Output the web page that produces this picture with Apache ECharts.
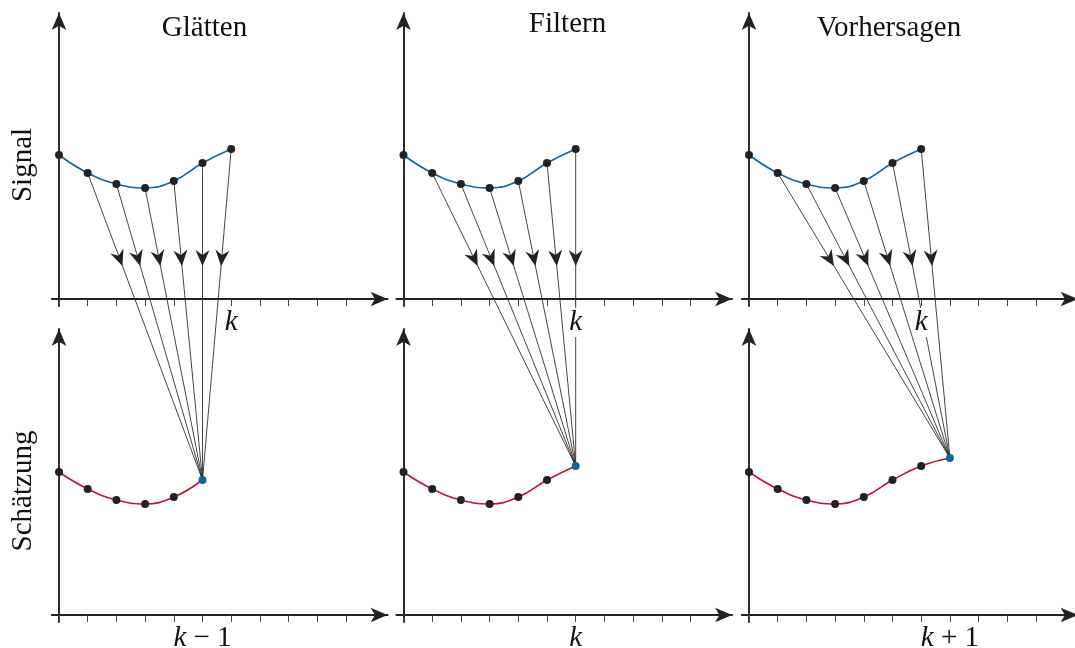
<!DOCTYPE html>
<html><head><meta charset="utf-8">
<script src="https://cdn.jsdelivr.net/npm/echarts@6/dist/echarts.min.js"></script>
<style>html,body{margin:0;padding:0;background:#fff}#c{width:1075px;height:648px}</style>
</head><body><div id="c"></div>
<script>
// ---- data ----
const tickValues = [0, 1, 2, 3, 4, 5, 6, 7, 8, 9, 10];
const signal = [1.44, 1.26, 1.15, 1.11, 1.18, 1.36, 1.50];
const estimateGlaetten = [1.43, 1.26, 1.15, 1.11, 1.18, 1.35];
const estimateFiltern = [1.43, 1.26, 1.15, 1.11, 1.18, 1.35, 1.49];
const estimateVorhersagen = [1.43, 1.26, 1.15, 1.11, 1.18, 1.35, 1.49, 1.57];
const arrowSources = [1, 2, 3, 4, 5, 6];
const titles = ['Glätten', 'Filtern', 'Vorhersagen'];
const rowLabels = ['Signal', 'Schätzung'];
const topTickLabel = 'k';
const topLabelTick = 6;
const bottomTickLabels = ['k − 1', 'k', 'k + 1'];

// ---- layout / style ----
const estimates = [estimateGlaetten, estimateFiltern, estimateVorhersagen];
const colAxisX = [59, 403.5, 749];
const rowAxisY = [299, 615];
const UNIT_X = 28.7, UNIT_Y = 100;
const X_MIN = -0.25, X_MAX = 11.45, Y_MIN = -0.07, Y_MAX = 2.86;
const ARROW_LEVEL = 0.33;
const AXIS = '#222', TICK = '#444', DOT = '#222', LINE = '#222', TEXT = '#111';
const BLUE = '#0b679f', RED = '#c41233';
const FONT = '"Liberation Serif", "DejaVu Serif", serif';
const titleX = [204.5, 567.5, 889], titleY = [28, 24, 28];
const rowLabelX = 23, rowLabelY = [165, 491];

const grids = [], xAxes = [], xInner = [], yAxes = [], series = [];
for (let r = 0; r < 2; r++) {
  for (let c = 0; c < 3; c++) {
    const g = r * 3 + c;
    grids.push({
      left: colAxisX[c] + X_MIN * UNIT_X,
      top: rowAxisY[r] - Y_MAX * UNIT_Y,
      width: (X_MAX - X_MIN) * UNIT_X,
      height: (Y_MAX - Y_MIN) * UNIT_Y,
      outerBoundsMode: 'none', containLabel: false
    });
    const labelTick = r === 0 ? topLabelTick : estimates[c].length - 1;
    const labelText = r === 0 ? topTickLabel : bottomTickLabels[c];
    xAxes.push({
      gridIndex: g, type: 'value', min: X_MIN, max: X_MAX, position: 'bottom', z: 3,
      axisLine: { show: true, onZero: true, symbol: ['none', 'arrow'], symbolSize: [11, 17],
        lineStyle: { color: AXIS, width: 1.9 } },
      axisTick: { show: true, customValues: tickValues, length: 7, inside: false,
        lineStyle: { color: TICK, width: 1 } },
      axisLabel: {
        show: true, customValues: [labelTick], margin: 2,
        formatter: () => '{i|' + labelText.charAt(0) + '}' + (labelText.length > 1 ? '{n|' + labelText.slice(1) + '}' : ''),
        backgroundColor: r === 0 ? '#fff' : 'transparent',
        padding: [0, 1, 0, 1],
        rich: {
          i: { fontFamily: FONT, fontStyle: 'italic', fontSize: 29, color: TEXT },
          n: { fontFamily: FONT, fontSize: 29, color: TEXT }
        }
      },
      splitLine: { show: false }
    });
    xInner.push({
      gridIndex: g, type: 'value', min: X_MIN, max: X_MAX, position: 'bottom', z: 3,
      axisLine: { show: false, onZero: true },
      axisTick: { show: true, customValues: tickValues, length: 7, inside: true,
        lineStyle: { color: TICK, width: 1 } },
      axisLabel: { show: false },
      splitLine: { show: false }
    });
    yAxes.push({
      gridIndex: g, type: 'value', min: Y_MIN, max: Y_MAX, position: 'left', z: 3,
      axisLine: { show: true, onZero: true, symbol: ['none', 'arrow'], symbolSize: [11, 17],
        lineStyle: { color: AXIS, width: 1.9 } },
      axisTick: { show: false }, axisLabel: { show: false }, splitLine: { show: false }
    });
    const vals = r === 0 ? signal : estimates[c];
    series.push({
      type: 'line', xAxisIndex: g, yAxisIndex: g, smooth: 0.45, z: 5,
      symbol: 'circle', symbolSize: 8, showSymbol: true, silent: true,
      lineStyle: { color: r === 0 ? BLUE : RED, width: 1.6 },
      itemStyle: { color: DOT },
      data: vals.map((v, i) => (r === 1 && i === vals.length - 1)
        ? { value: [i, v], itemStyle: { color: BLUE } } : [i, v])
    });
  }
}

const graphic = [];
titles.forEach((t, c) => graphic.push({
  type: 'text', x: titleX[c], y: titleY[c], silent: true,
  style: { text: t, fontFamily: FONT, fontSize: 29, fill: TEXT, align: 'center', verticalAlign: 'middle' }
}));
rowLabels.forEach((t, r) => graphic.push({
  type: 'text', x: rowLabelX, y: rowLabelY[r], rotation: Math.PI / 2, silent: true,
  style: { text: t, fontFamily: FONT, fontSize: 29, fill: TEXT, align: 'center', verticalAlign: 'middle' }
}));

const chart = echarts.init(document.getElementById('c'), null, { renderer: 'canvas' });
chart.setOption({
  animation: false,
  backgroundColor: '#fff',
  grid: grids,
  xAxis: xAxes.concat(xInner),
  yAxis: yAxes,
  graphic: graphic,
  series: series
});

// connecting arrows, placed through the axes' own scales
const arrowData = [];
for (let c = 0; c < 3; c++) arrowSources.forEach(i => arrowData.push([c, i]));
chart.setOption({
  series: series.concat([{
    type: 'custom', id: 'arrows', coordinateSystem: 'none', z: 2, silent: true,
    data: arrowData,
    renderItem: function (params, api) {
      const c = api.value(0), i = api.value(1);
      const est = estimates[c], t = est.length - 1;
      const p0 = chart.convertToPixel({ xAxisIndex: c, yAxisIndex: c }, [i, signal[i]]);
      const p1 = chart.convertToPixel({ xAxisIndex: 3 + c, yAxisIndex: 3 + c }, [t, est[t]]);
      const yA = chart.convertToPixel({ xAxisIndex: c, yAxisIndex: c }, [0, ARROW_LEVEL])[1];
      const f = (yA - p0[1]) / (p1[1] - p0[1]);
      const tip = [p0[0] + f * (p1[0] - p0[0]), yA];
      const ang = Math.atan2(p1[1] - p0[1], p1[0] - p0[0]);
      const L = 16, W = 7, N = 5;
      const cs = Math.cos(ang), sn = Math.sin(ang);
      const pts = [[0, 0], [-L, -W], [-L + N, 0], [-L, W]].map(([a, b]) =>
        [tip[0] + a * cs - b * sn, tip[1] + a * sn + b * cs]);
      return {
        type: 'group', children: [
          { type: 'line', shape: { x1: p0[0], y1: p0[1], x2: p1[0], y2: p1[1] },
            style: { stroke: LINE, lineWidth: 0.85 } },
          { type: 'polygon', shape: { points: pts }, style: { fill: LINE } }
        ]
      };
    }
  }])
});
</script>
</body></html>
